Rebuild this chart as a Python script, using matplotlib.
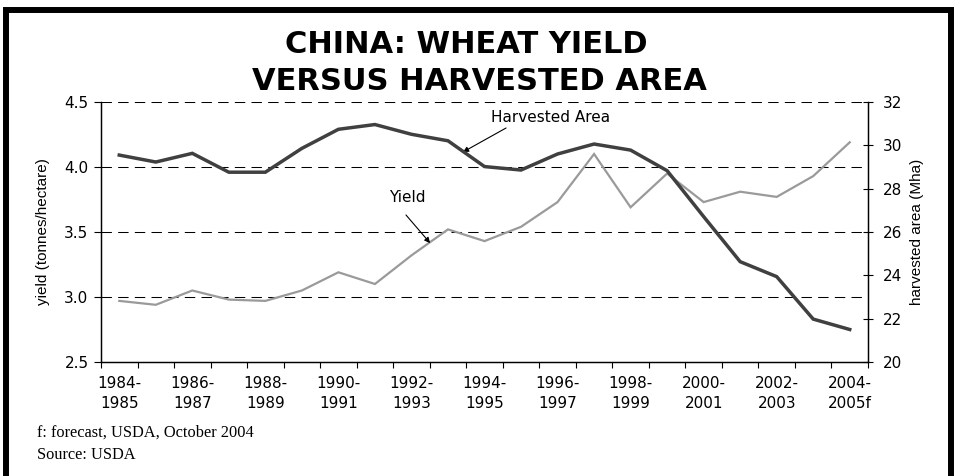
import matplotlib
matplotlib.use("Agg")
import matplotlib.pyplot as plt
from matplotlib.patches import Rectangle
import numpy as np

plt.rcParams['font.family'] = ['DejaVu Sans']

categories = ["1984-85", "1985-86", "1986-87", "1987-88", "1988-89", "1989-90", "1990-91",
              "1991-92", "1992-93", "1993-94", "1994-95", "1995-96", "1996-97", "1997-98",
              "1998-99", "1999-00", "2000-01", "2001-02", "2002-03", "2003-04", "2004-05f"]
yield_t_ha = [2.97, 2.94, 3.05, 2.98, 2.97, 3.05, 3.19, 3.10, 3.32, 3.52, 3.43,
              3.54, 3.73, 4.10, 3.69, 3.95, 3.73, 3.81, 3.77, 3.93, 4.19]
area_mha = [29.55, 29.23, 29.63, 28.76, 28.76, 29.86, 30.74, 30.96, 30.51, 30.21, 29.02,
            28.86, 29.60, 30.06, 29.78, 28.83, 26.71, 24.63, 23.94, 21.98, 21.50]
xtick_labels = ["1984-\n1985", "1986-\n1987", "1988-\n1989", "1990-\n1991", "1992-\n1993",
                "1994-\n1995", "1996-\n1997", "1998-\n1999", "2000-\n2001", "2002-\n2003",
                "2004-\n2005f"]
left_ticks = [2.5, 3.0, 3.5, 4.0, 4.5]
right_ticks = [20, 22, 24, 26, 28, 30, 32]

W, H = 956, 476
fig = plt.figure(figsize=(W / 100, H / 100), dpi=100)
fig.patch.set_facecolor('white')

ax = fig.add_axes([101 / W, 1 - 362 / H, (868 - 101) / W, (362 - 102) / H])
ax2 = ax.twinx()

x = np.arange(len(categories))
ax.plot(x, yield_t_ha, color='#9a9a9a', lw=1.6, zorder=3, solid_joinstyle='miter')
ax2.plot(x, area_mha, color='#404040', lw=2.5, zorder=3, solid_joinstyle='miter')

ax.set_xlim(-0.5, len(categories) - 0.5)
ax.set_ylim(2.5, 4.5)
ax2.set_ylim(20, 32)
ax.set_yticks(left_ticks)
ax.set_yticklabels([f"{v:.1f}" for v in left_ticks], fontsize=11)
ax2.set_yticks(right_ticks)
ax2.set_yticklabels([str(v) for v in right_ticks], fontsize=11)

ax.set_xticks(x[::2])
ax.set_xticklabels(xtick_labels, fontsize=11, linespacing=1.4)
ax.set_xticks(np.arange(-0.5, len(categories) + 0.5, 1), minor=True)
ax.tick_params(axis='x', which='major', length=0, pad=10)
ax.tick_params(axis='x', which='minor', length=4, direction='out', width=0.8)
ax.tick_params(axis='y', length=5, direction='out', width=0.8, pad=4)
ax2.tick_params(axis='y', length=7, direction='inout', width=0.8, pad=7)

for a in (ax, ax2):
    a.spines['top'].set_visible(False)
    for s in ('left', 'right', 'bottom'):
        a.spines[s].set_linewidth(0.9)
        a.spines[s].set_color('black')

for v in [3.0, 3.5, 4.0, 4.5]:
    ax.axhline(v, color='black', lw=0.75, linestyle=(0, (10, 6)), zorder=1)

ax.set_ylabel("yield (tonnes/hectare)", fontsize=11, family='Liberation Sans', labelpad=10)
ax2.set_ylabel("harvested area (Mha)", fontsize=11, family='Liberation Sans', labelpad=6)

# annotations
ax.text(11.82, 4.377, "Harvested Area", fontsize=11, ha='center', va='center', zorder=5)
ax.annotate('', xy=(9.41, 4.115), xytext=(10.59, 4.30),
            arrowprops=dict(arrowstyle='-|>', color='black', lw=0.8, mutation_scale=8,
                            shrinkA=0, shrinkB=0), zorder=5)
ax.text(7.88, 3.762, "Yield", fontsize=11, ha='center', va='center', zorder=5)
ax.annotate('', xy=(8.51, 3.415), xytext=(7.85, 3.631),
            arrowprops=dict(arrowstyle='-|>', color='black', lw=0.8, mutation_scale=8,
                            shrinkA=0, shrinkB=0), zorder=5)

# titles
fig.text(466 / W, 1 - 53 / H, "CHINA: WHEAT YIELD", fontsize=22, fontweight='bold',
         ha='center', va='baseline')
fig.text(479 / W, 1 - 90 / H, "VERSUS HARVESTED AREA", fontsize=22, fontweight='bold',
         ha='center', va='baseline')

# footnotes
fig.text(37 / W, 1 - 437 / H, "f: forecast, USDA, October 2004", fontsize=11.8,
         family='Liberation Serif', ha='left', va='baseline')
fig.text(37 / W, 1 - 459 / H, "Source: USDA", fontsize=11.8,
         family='Liberation Serif', ha='left', va='baseline')

# outer frame
fig.patches.append(Rectangle((6 / W, -0.05), (950.5 - 6) / W, 1.05 - 10 / H,
                             transform=fig.transFigure, fill=False, edgecolor='black',
                             linewidth=4.3))

fig.savefig("out.png", dpi=100)
